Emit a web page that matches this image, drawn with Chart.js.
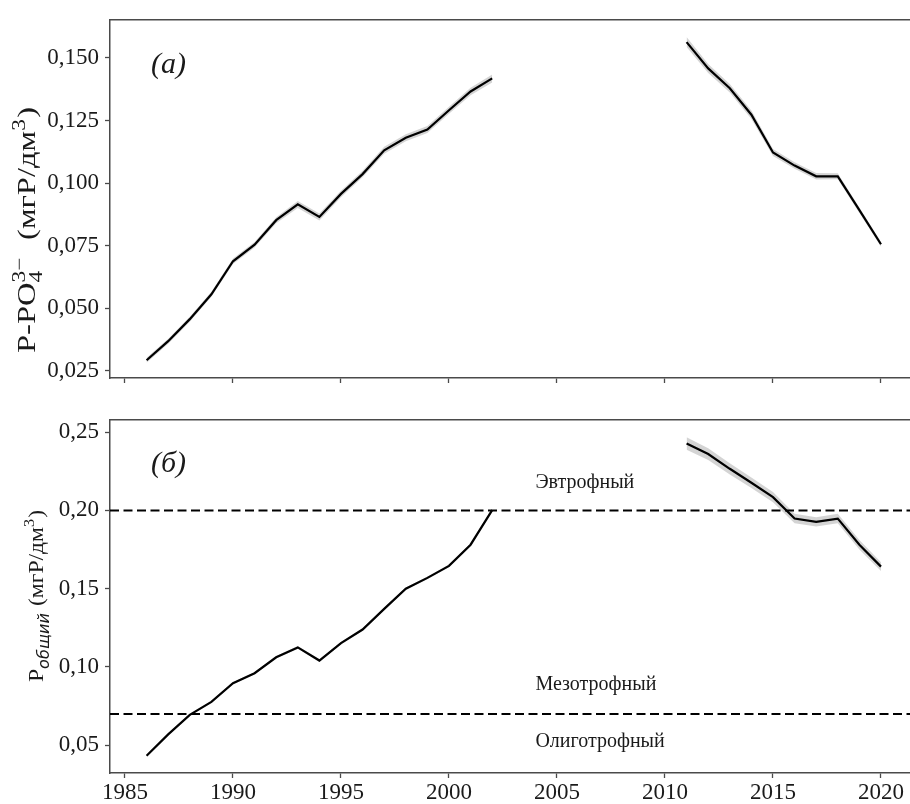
<!DOCTYPE html>
<html><head><meta charset="utf-8">
<script src="https://cdn.jsdelivr.net/npm/chart.js@4/dist/chart.umd.min.js"></script>
<style>
html,body{margin:0;padding:0;background:#fff;overflow:hidden;width:910px;height:804px}
canvas{position:absolute;left:0}
#c1{top:0}#c2{top:400px}
</style></head><body>
<canvas id="c1" width="910" height="400"></canvas>
<canvas id="c2" width="910" height="404"></canvas>
<script>
// ---- data ----
const yearsEarly = [1986,1987,1988,1989,1990,1991,1992,1993,1994,1995,1996,1997,1998,1999,2000,2001,2002];
const yearsLate = [2011,2012,2013,2014,2015,2016,2017,2018,2019,2020];
const po4Early = [0.0293,0.0369,0.0457,0.0556,0.0688,0.0754,0.0852,0.0915,0.0865,0.0957,0.1036,0.1131,0.1181,0.1214,0.1291,0.1366,0.1418];
const po4Late = [0.1563,0.1458,0.1379,0.1273,0.1122,0.1070,0.1027,0.1027,0.0892,0.0756];
const po4EarlyCI = [0.0010,0.0010,0.0010,0.0010,0.0011,0.0011,0.0012,0.0014,0.0014,0.0013,0.0013,0.0014,0.0014,0.0014,0.0014,0.0015,0.0016];
const po4LateCI = [0.0020,0.0018,0.0017,0.0017,0.0014,0.0013,0.0013,0.0012,0.0011,0.0010];
const ptotEarly = [0.0433,0.0569,0.0694,0.0777,0.0896,0.0960,0.1062,0.1125,0.1041,0.1152,0.1239,0.1371,0.1500,0.1569,0.1646,0.1781,0.2002];
const ptotLate = [0.2427,0.2360,0.2266,0.2177,0.2085,0.1948,0.1927,0.1948,0.1781,0.1641];
const ptotEarlyCI = [0.0006,0.0006,0.0006,0.0006,0.0007,0.0007,0.0008,0.0009,0.0009,0.0008,0.0008,0.0008,0.0008,0.0008,0.0009,0.0010,0.0010];
const ptotLateCI = [0.0040,0.0038,0.0036,0.0034,0.0032,0.0030,0.0030,0.0030,0.0030,0.0028];
const xTickValues = [1985,1990,1995,2000,2005,2010,2015,2020];
const po4TickValues = [0.025,0.050,0.075,0.100,0.125,0.150];
const ptotTickValues = [0.05,0.10,0.15,0.20,0.25];
const trophicThresholds = [0.20, 0.07];
const trophicNames = ['Эвтрофный','Мезотрофный','Олиготрофный'];

// ---- layout ----
const X_MIN = 1984.306, X_MAX = 2021.343;
const SERIF = '"Liberation Serif","Times New Roman",serif';
const AX = '#4a4a4a';

function pts(xs, ys, d) { return xs.map((x,i)=>({x, y: ys[i] + (d ? d[i] : 0)})); }
function neg(a){ return a.map(v=>-v); }

function datasets(early, late, eCI, lCI, thresholds) {
  const ds = [
    {data: pts(yearsEarly, early), borderColor:'#000', borderWidth:2.2, fill:false},
    {data: pts(yearsLate, late), borderColor:'#000', borderWidth:2.2, fill:false},
  ];
  (thresholds||[]).forEach(t => ds.push({
    data: [{x:X_MIN,y:t},{x:X_MAX,y:t}], borderColor:'#000', borderWidth:2, borderDash:[9,4.5], fill:false
  }));
  const base = ds.length;
  ds.push({data: pts(yearsEarly, early, neg(eCI)), borderWidth:0, borderColor:'rgba(0,0,0,0)', fill:false});
  ds.push({data: pts(yearsEarly, early, eCI), borderWidth:0, borderColor:'rgba(0,0,0,0)', backgroundColor:'rgba(0,0,0,0.17)', fill: base});
  ds.push({data: pts(yearsLate, late, neg(lCI)), borderWidth:0, borderColor:'rgba(0,0,0,0)', fill:false});
  ds.push({data: pts(yearsLate, late, lCI), borderWidth:0, borderColor:'rgba(0,0,0,0)', backgroundColor:'rgba(0,0,0,0.17)', fill: base+2});
  return ds;
}

function drawRich(ctx, parts, baseX, midY, size, targetLen) {
  ctx.save();
  ctx.translate(baseX, midY);
  ctx.rotate(-Math.PI/2);
  ctx.fillStyle = '#1a1a1a';
  ctx.textBaseline = 'alphabetic';
  ctx.textAlign = 'left';
  const small = Math.round(size*0.7);
  const mainF = size + 'px ' + SERIF;
  const smallF = small + 'px ' + SERIF;
  let total = 0;
  const ws = parts.map(p => {
    let w;
    if (p.t !== undefined) { ctx.font = p.font || mainF; w = ctx.measureText(p.t).width; }
    else {
      ctx.font = p.subFont || smallF; const a = p.sub ? ctx.measureText(p.sub).width : 0;
      ctx.font = smallF; const b = p.sup ? ctx.measureText(p.sup).width : 0;
      w = Math.max(a,b) + 1;
    }
    total += w; return w;
  });
  const s = targetLen / total;
  ctx.scale(s, 1);
  let x = -total/2;
  parts.forEach((p,i) => {
    if (p.t !== undefined) { ctx.font = p.font || mainF; ctx.fillText(p.t, x, 0); }
    else {
      if (p.sub) { ctx.font = p.subFont || smallF; ctx.fillText(p.sub, x, size*0.28); }
      if (p.sup) { ctx.font = smallF; ctx.fillText(p.sup, x, -size*0.42); }
    }
    x += ws[i];
  });
  ctx.restore();
}

function makeChart(id, cfg) {
  const framePlugin = {
    id: 'frame',
    afterDraw(chart) {
      const {ctx, chartArea:a, scales} = chart;
      ctx.save();
      ctx.strokeStyle = AX; ctx.lineWidth = 1.5;
      ctx.beginPath(); ctx.moveTo(a.left, a.top); ctx.lineTo(a.right, a.top); ctx.stroke();
      // panel label
      ctx.fillStyle = '#1a1a1a';
      ctx.font = 'italic 30px ' + SERIF;
      ctx.textBaseline = 'alphabetic'; ctx.textAlign = 'left';
      ctx.fillText(cfg.panel, a.left + 41, a.top + cfg.panelDy);
      // trophic labels
      if (cfg.trophic) {
        ctx.font = '20px ' + SERIF; ctx.textAlign = 'left'; ctx.textBaseline = 'alphabetic';
        cfg.trophic.forEach(([name, xv, yv]) => {
          ctx.fillText(name, scales.x.getPixelForValue(xv), scales.y.getPixelForValue(yv));
        });
      }
      drawRich(ctx, cfg.title, cfg.titleX, cfg.titleMid, cfg.titleSize, cfg.titleLen);
      ctx.restore();
    }
  };
  return new Chart(document.getElementById(id), {
    type: 'line',
    data: {datasets: cfg.datasets},
    options: {
      responsive: false, animation: false, devicePixelRatio: 1,
      layout: {padding: {top: cfg.padTop, left: 0, right: 0, bottom: 0}},
      elements: {point: {radius: 0, hoverRadius: 0}, line: {tension: 0}},
      plugins: {legend: {display: false}, tooltip: {enabled: false}},
      events: [],
      scales: {
        x: {
          type: 'linear', min: X_MIN, max: X_MAX, position: 'bottom',
          grid: {display: true, drawOnChartArea: false, drawTicks: true, tickLength: 5, tickColor: AX, tickWidth: 1.3},
          border: {display: true, color: AX, width: 1.5},
          ticks: {display: cfg.xLabels, font: {family: SERIF, size: 23}, color: '#1a1a1a', padding: 1,
                  maxRotation: 0, autoSkip: false, callback: v => String(v)},
          afterBuildTicks: ax => { ax.ticks = xTickValues.map(v => ({value: v})); },
          afterFit: ax => { ax.height = cfg.xHeight; }
        },
        y: {
          type: 'linear', min: cfg.yMin, max: cfg.yMax, position: 'left',
          grid: {display: true, drawOnChartArea: false, drawTicks: true, tickLength: 5, tickColor: AX, tickWidth: 1.3},
          border: {display: true, color: AX, width: 1.5},
          ticks: {font: {family: SERIF, size: 23}, color: '#1a1a1a', padding: 6, autoSkip: false,
                  callback: v => v.toFixed(cfg.dec).replace('.', ',')},
          afterBuildTicks: ax => { ax.ticks = cfg.yTicks.map(v => ({value: v})); },
          afterFit: ax => { ax.width = 110; }
        }
      }
    },
    plugins: [framePlugin]
  });
}

makeChart('c1', {
  datasets: datasets(po4Early, po4Late, po4EarlyCI, po4LateCI, null),
  padTop: 16, xHeight: 22, xLabels: false,
  yMin: 0.0222, yMax: 0.1652, yTicks: po4TickValues, dec: 3,
  panel: '(a)', panelDy: 53,
  title: [{t:'P-PO'},{sub:'4', sup:'3\u2212'},{t:'  (мгP/дм'},{sup:'3'},{t:')'}],
  titleX: 35, titleMid: 230, titleSize: 25, titleLen: 246
});

makeChart('c2', {
  datasets: datasets(ptotEarly, ptotLate, ptotEarlyCI, ptotLateCI, trophicThresholds),
  padTop: 12, xHeight: 31, xLabels: true,
  yMin: 0.03225, yMax: 0.2579, yTicks: ptotTickValues, dec: 2,
  panel: '(б)', panelDy: 52,
  trophic: [[trophicNames[0], 2004.0, 0.2141], [trophicNames[1], 2004.0, 0.0854], [trophicNames[2], 2004.0, 0.0491]],
  title: [{t:'P'},{sub:'общий', subFont:'italic 15px "DejaVu Sans", sans-serif'},{t:' (мгP/дм'},{sup:'3'},{t:')'}],
  titleX: 43, titleMid: 196, titleSize: 22, titleLen: 172
});
</script>
</body></html>
